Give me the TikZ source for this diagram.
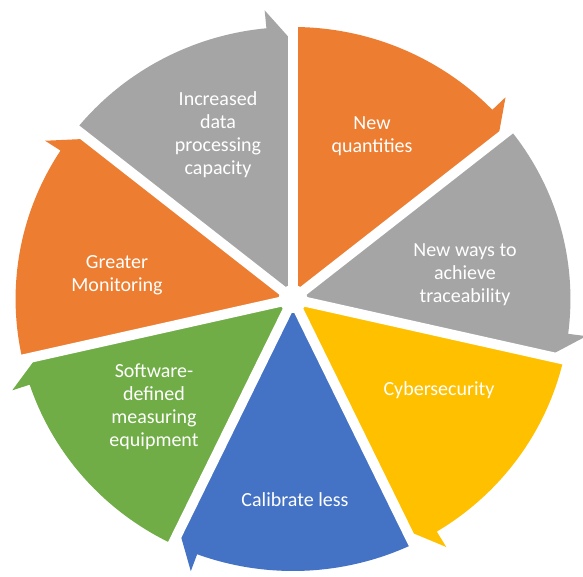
\documentclass[tikz,border=0pt]{standalone}
\usepackage{fontspec}
\setmainfont{Carlito}
\definecolor{cOrange}{HTML}{ED7D31}
\definecolor{cGray}{HTML}{A5A5A5}
\definecolor{cYellow}{HTML}{FFC000}
\definecolor{cBlue}{HTML}{4472C4}
\definecolor{cGreen}{HTML}{70AD47}
\tikzset{
  segtext/.style={text=white, align=center, inner sep=0pt, font=\fontsize{20}{23}\selectfont},
  gapline/.style={white, line width=10pt}
}
\begin{document}
\begin{tikzpicture}[x=1pt,y=1pt]
\useasboundingbox (0,0) rectangle (583,576);
\fill[white] (0,0) rectangle (583,576);
\begin{scope}[shift={(293,277)}, xscale=1.02]
\foreach \i/\col in {0/cOrange,1/cGray,2/cYellow,3/cBlue,4/cGreen,5/cOrange,6/cGray}{
  \pgfmathsetmacro\s{90-360/7*\i}
  \pgfmathsetmacro\e{\s-360/7}
  \pgfmathsetmacro\a{\e+5.5}
  \fill[\col] (0,0) -- (\s:272) arc[start angle=\s, end angle=\a, radius=272] -- (\a:290) -- (\e:257) -- cycle;
}
\foreach \i in {0,...,6}{
  \pgfmathsetmacro\s{90-360/7*\i}
  \draw[gapline] (0,0) -- (\s:300);
}
\fill[white] (0,0) circle[radius=14];
\end{scope}
\node[segtext] (inc) at (218,441) {Increased\\data\\processing\\capacity};
\node[segtext] (newq) at (372,440) {New\\quantities};
\node[segtext] (ways) at (465,301) {New ways to\\achieve\\traceability};
\node[segtext] (cyber) at (439,186) {Cybersecurity};
\node[segtext] (calib) at (295,76) {Calibrate less};
\node[segtext] (soft) at (154,169) {Software-\\defined\\measuring\\equipment};
\node[segtext] (greater) at (117,301) {Greater\\Monitoring};
\end{tikzpicture}
\end{document}
